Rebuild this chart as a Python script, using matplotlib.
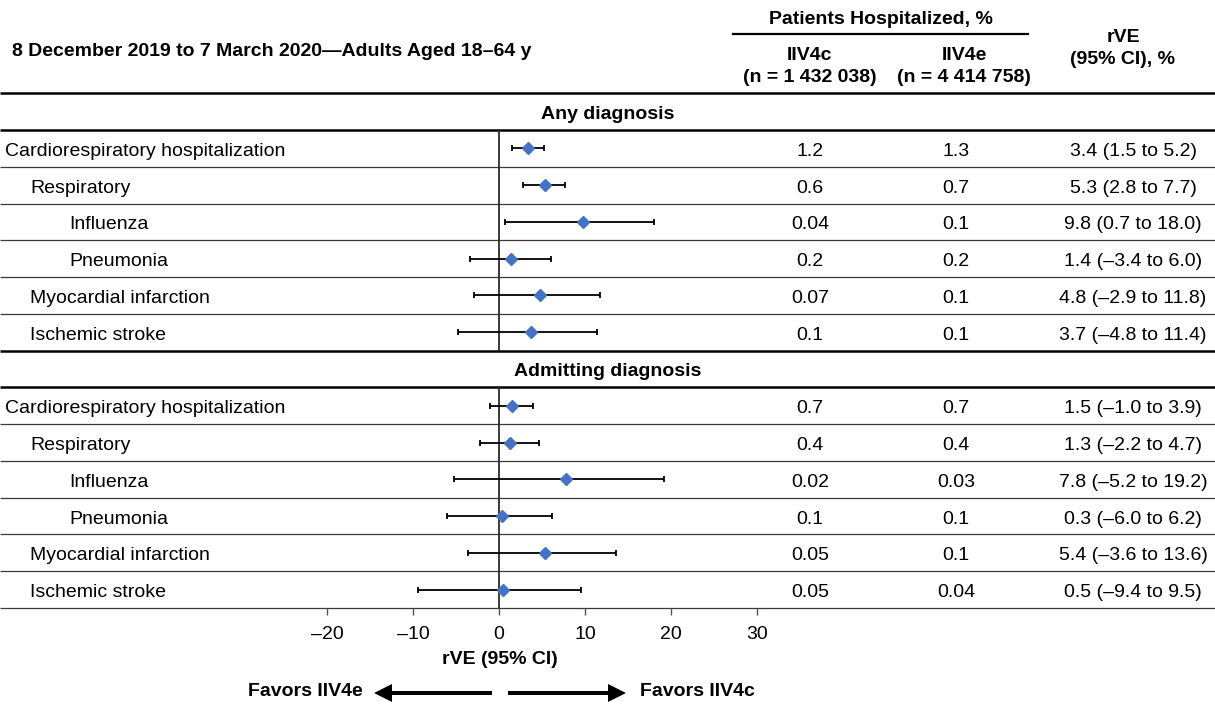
import numpy as np
import matplotlib.pyplot as plt
from matplotlib.patches import FancyArrow

plt.rcParams['font.family'] = ['Liberation Sans', 'DejaVu Sans']
plt.rcParams['font.size'] = 14

# ---- data ----
title = '8 December 2019 to 7 March 2020\u2014Adults Aged 18\u201364 y'
sections = ['Any diagnosis', 'Admitting diagnosis']
outcomes = ['Cardiorespiratory hospitalization', 'Respiratory', 'Influenza',
            'Pneumonia', 'Myocardial infarction', 'Ischemic stroke']
indent = [0, 1, 2, 2, 1, 1]

any_est = [3.4, 5.3, 9.8, 1.4, 4.8, 3.7]
any_lo = [1.5, 2.8, 0.7, -3.4, -2.9, -4.8]
any_hi = [5.2, 7.7, 18.0, 6.0, 11.8, 11.4]
any_iiv4c = ['1.2', '0.6', '0.04', '0.2', '0.07', '0.1']
any_iiv4e = ['1.3', '0.7', '0.1', '0.2', '0.1', '0.1']

adm_est = [1.5, 1.3, 7.8, 0.3, 5.4, 0.5]
adm_lo = [-1.0, -2.2, -5.2, -6.0, -3.6, -9.4]
adm_hi = [3.9, 4.7, 19.2, 6.2, 13.6, 9.5]
adm_iiv4c = ['0.7', '0.4', '0.02', '0.1', '0.05', '0.05']
adm_iiv4e = ['0.7', '0.4', '0.03', '0.1', '0.1', '0.04']

xticks = [-20, -10, 0, 10, 20, 30]


def dash(v):
    return f'{v:.1f}'.replace('-', '\u2013')


W, H = 1215, 707
fig = plt.figure(figsize=(W / 100, H / 100), dpi=100)

# background axes in pixel coordinates for the table part
ax = fig.add_axes([0, 0, 1, 1])
ax.set_xlim(0, W)
ax.set_ylim(H, 0)
ax.axis('off')

top, bottom = 130, 608
slot = (bottom - top) / 13.0
indent_x = [5, 30, 69]
col_c, col_e, col_r = 810, 956, 1133
dy = 3  # text sits slightly below the row centre in the reference

# header
ax.text(12, 51, title, fontweight='bold', ha='left', va='center')
ax.text(881, 20, 'Patients Hospitalized, %', fontweight='bold', ha='center', va='center')
ax.plot([733, 1028], [34, 34], color='black', lw=1.6)
ax.text(810, 55, 'IIV4c', fontweight='bold', ha='center', va='center')
ax.text(810, 78, '(n = 1 432 038)', fontweight='bold', ha='center', va='center')
ax.text(964, 55, 'IIV4e', fontweight='bold', ha='center', va='center')
ax.text(964, 78, '(n = 4 414 758)', fontweight='bold', ha='center', va='center')
ax.text(1123, 37, 'rVE', fontweight='bold', ha='center', va='center')
ax.text(1123, 60, '(95% CI), %', fontweight='bold', ha='center', va='center')

# horizontal rules
for y in [93, top, top + 6 * slot, top + 7 * slot]:
    ax.plot([0, W], [y, y], color='black', lw=1.8, solid_capstyle='butt')
for k in list(range(1, 6)) + list(range(8, 14)):
    y = top + k * slot
    ax.plot([0, W], [y, y], color='#3a3a3a', lw=0.9, solid_capstyle='butt')

ax.text(W / 2, (93 + top) / 2 + dy, sections[0], fontweight='bold', ha='center', va='center')
ax.text(W / 2, top + 6.5 * slot + dy, sections[1], fontweight='bold', ha='center', va='center')

blocks = [(any_est, any_lo, any_hi, any_iiv4c, any_iiv4e),
          (adm_est, adm_lo, adm_hi, adm_iiv4c, adm_iiv4e)]

# forest axes
fa = fig.add_axes([327 / W, (H - bottom) / H, 430 / W, (bottom - top) / H])
fa.set_xlim(-20, 30)
fa.set_ylim(13, 0)
fa.patch.set_alpha(0)
for s in fa.spines.values():
    s.set_visible(False)
fa.set_yticks([])
fa.set_xticks(xticks)
fa.set_xticklabels([str(t).replace('-', '\u2013') for t in xticks])
fa.tick_params(axis='x', length=5, width=1, color='#44546A', pad=8, labelsize=14)
fa.vlines([0, 0], [0, 7], [6, 13], color='#2b2b2b', lw=1.3)

for b, (est, lo, hi, pc, pe) in enumerate(blocks):
    est, lo, hi = np.array(est), np.array(lo), np.array(hi)
    ys = np.arange(len(est)) + 0.5 + 7 * b
    fa.errorbar(est, ys, xerr=[est - lo, hi - est], fmt='none', ecolor='black',
                elinewidth=1.3, capsize=2.5, capthick=1.3, clip_on=False)
    fa.plot(est, ys, 'D', color='#4472C4', ms=6.5, zorder=4, clip_on=False)
    for i in range(len(est)):
        y = top + (i + 0.5 + 7 * b) * slot + dy
        ax.text(indent_x[indent[i]], y, outcomes[i], ha='left', va='center')
        ax.text(col_c, y, pc[i], ha='center', va='center')
        ax.text(col_e, y, pe[i], ha='center', va='center')
        ax.text(col_r, y, f'{dash(est[i])} ({dash(lo[i])} to {dash(hi[i])})',
                ha='center', va='center')

# axis title and direction arrows
ax.text(500, 659, 'rVE (95% CI)', fontweight='bold', ha='center', va='center')
ax.add_patch(FancyArrow(492, 693, -118, 0, width=4, head_width=18, head_length=18,
                        length_includes_head=True, color='black', lw=0))
ax.add_patch(FancyArrow(508, 693, 118, 0, width=4, head_width=18, head_length=18,
                        length_includes_head=True, color='black', lw=0))
ax.text(363, 692, 'Favors IIV4e', fontweight='bold', ha='right', va='center')
ax.text(640, 692, 'Favors IIV4c', fontweight='bold', ha='left', va='center')

fig.savefig('out.png', dpi=100)
